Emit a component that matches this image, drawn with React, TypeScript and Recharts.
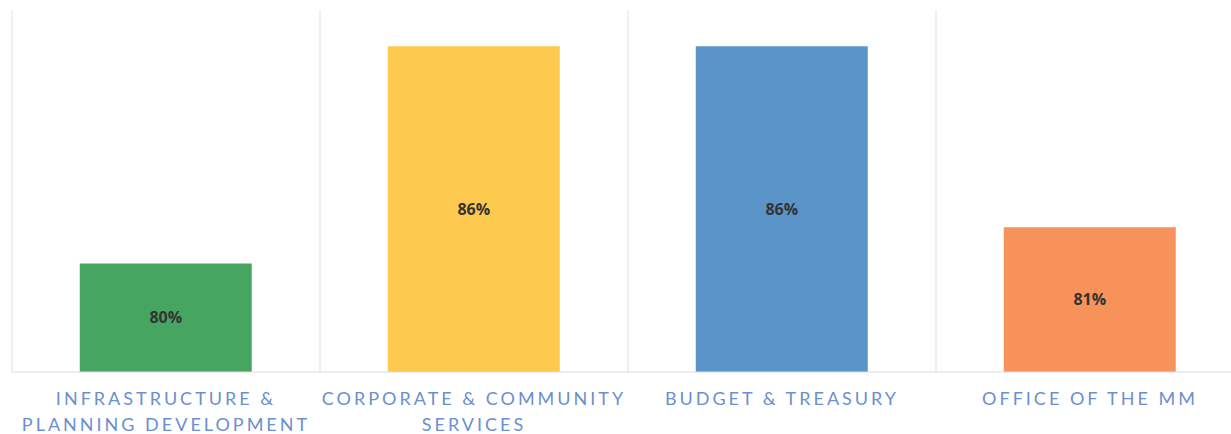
import { BarChart, Bar, XAxis, YAxis, CartesianGrid, Cell, LabelList } from "recharts";

const departments = [
  "INFRASTRUCTURE & PLANNING DEVELOPMENT",
  "CORPORATE & COMMUNITY SERVICES",
  "BUDGET & TREASURY",
  "OFFICE OF THE MM",
];
const tickLines = [
  ["INFRASTRUCTURE &", "PLANNING DEVELOPMENT"],
  ["CORPORATE & COMMUNITY", "SERVICES"],
  ["BUDGET & TREASURY"],
  ["OFFICE OF THE MM"],
];
const scores = [80, 86, 86, 81];
const barColors = ["#47a562", "#fdc94f", "#5b94c8", "#f6925a"];

const data = departments.map((name, i) => ({ name, score: scores[i] }));

function DeptTick(props: any) {
  const { x, y, index } = props;
  const lines = tickLines[index] || [];
  return (
    <g>
      {lines.map((line, i) => (
        <text
          key={i}
          x={x}
          y={y + 25 + i * 26}
          textAnchor="middle"
          fill="#6b8fd0"
          fontSize={18}
          fontFamily="Lato, 'Open Sans', sans-serif"
          letterSpacing={3}
        >
          {line}
        </text>
      ))}
    </g>
  );
}

export default function App() {
  return (
    <div style={{ position: "absolute", left: 0, top: 0, width: 1250, height: 434, background: "#fff" }}>
      <BarChart
        width={1250}
        height={434}
        data={data}
        margin={{ top: 10, right: 6, bottom: 2, left: 12 }}
        barCategoryGap="22%"
      >
        <CartesianGrid
          horizontal={false}
          stroke="#dcdfe4"
          verticalCoordinatesGenerator={({ offset }: any) =>
            [0, 1, 2, 3, 4].map((i) => offset.left + (i * offset.width) / 4)
          }
        />
        <XAxis
          dataKey="name"
          height={60}
          axisLine={{ stroke: "#d9dce2" }}
          tickLine={false}
          interval={0}
          tick={<DeptTick />}
        />
        <YAxis hide domain={[77, 87]} allowDataOverflow />
        <Bar dataKey="score" isAnimationActive={false}>
          {data.map((_, i) => (
            <Cell key={i} fill={barColors[i]} />
          ))}
          <LabelList
            dataKey="score"
            position="center"
            formatter={(v: any) => `${v}%`}
            fill="#333"
            fontSize={16}
            fontWeight="bold"
            fontFamily="'Open Sans', sans-serif"
          />
        </Bar>
      </BarChart>
    </div>
  );
}
